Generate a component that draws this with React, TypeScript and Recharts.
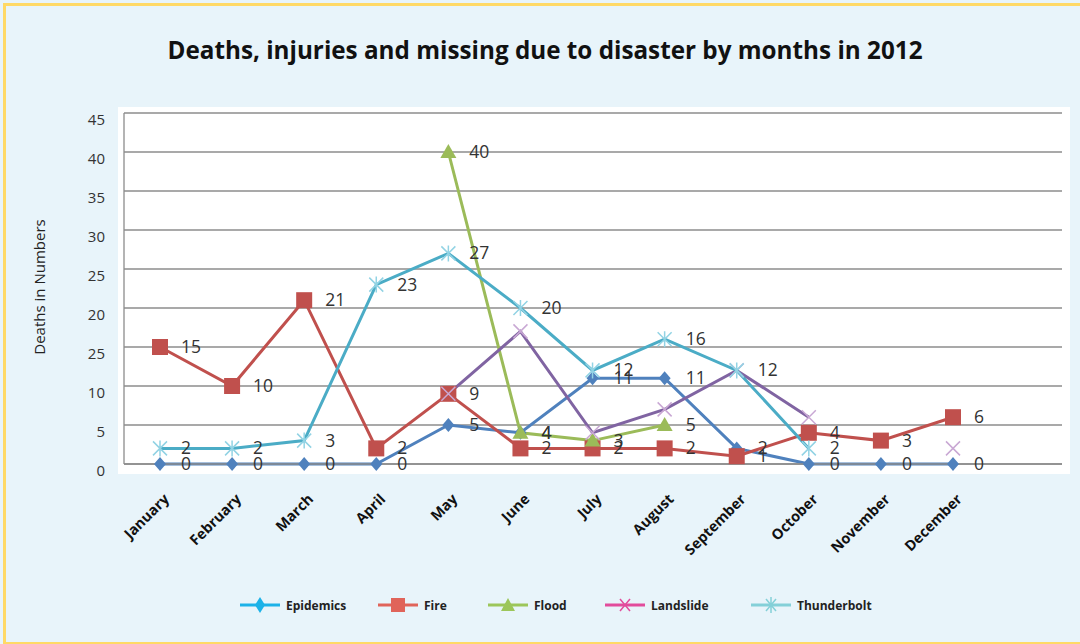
import { CartesianGrid, LabelList, Line, LineChart, XAxis, YAxis } from 'recharts';

const MONTHS = [
  'January', 'February', 'March', 'April', 'May', 'June',
  'July', 'August', 'September', 'October', 'November', 'December',
];
const EPIDEMICS = [0, 0, 0, 0, 5, 4, 11, 11, 2, 0, 0, 0];
const FIRE = [15, 10, 21, 2, 9, 2, 2, 2, 1, 4, 3, 6];
const FLOOD = [null, null, null, null, 40, 4, 3, 5, null, null, null, null];
const LANDSLIDE = [null, null, null, null, 9, 17, 4, 7, 12, 6, null, 2];
const THUNDERBOLT = [2, 2, 3, 23, 27, 20, 12, 16, 12, 2, null, null];

const Y_TICKS = [0, 5, 10, 15, 20, 25, 30, 35, 40, 45];
// the original chart labels the 15 gridline as "25"
const Y_TICK_LABELS = ['0', '5', '10', '25', '20', '25', '30', '35', '40', '45'];

const LEGEND = [
  { name: 'Epidemics', color: '#1cb2e8', shape: 'diamond', left: 240 },
  { name: 'Fire', color: '#e0645a', shape: 'square', left: 378 },
  { name: 'Flood', color: '#9cc65a', shape: 'triangle', left: 488 },
  { name: 'Landslide', color: '#e24c9c', shape: 'cross', left: 605 },
  { name: 'Thunderbolt', color: '#84d0d8', shape: 'star', left: 751 },
];

const data = MONTHS.map((month, i) => ({
  month,
  epidemics: EPIDEMICS[i],
  fire: FIRE[i],
  flood: FLOOD[i],
  landslide: LANDSLIDE[i],
  thunderbolt: THUNDERBOLT[i],
}));

const FONT = '"Open Sans", "Noto Sans", sans-serif';

function hasPoint(props: any) {
  return props.cx != null && props.cy != null && props.value != null && !Number.isNaN(props.cy);
}

function DiamondDot(props: any) {
  if (!hasPoint(props)) return null;
  const { cx, cy } = props;
  return <path d={`M${cx},${cy - 7} L${cx + 6},${cy} L${cx},${cy + 7} L${cx - 6},${cy} Z`} fill="#4f81bd" />;
}

function SquareDot(props: any) {
  if (!hasPoint(props)) return null;
  const { cx, cy } = props;
  return <rect x={cx - 8} y={cy - 8} width={16} height={16} fill="#c0504d" />;
}

function TriangleDot(props: any) {
  if (!hasPoint(props)) return null;
  const { cx, cy } = props;
  return <path d={`M${cx},${cy - 8} L${cx + 8},${cy + 6} L${cx - 8},${cy + 6} Z`} fill="#9bbb59" />;
}

function CrossDot(props: any) {
  if (!hasPoint(props)) return null;
  const { cx, cy } = props;
  return (
    <path
      d={`M${cx - 7},${cy - 7} L${cx + 7},${cy + 7} M${cx + 7},${cy - 7} L${cx - 7},${cy + 7}`}
      stroke="#c9a8d4"
      strokeWidth={1.5}
      fill="none"
    />
  );
}

function StarDot(props: any) {
  if (!hasPoint(props)) return null;
  const { cx, cy } = props;
  return (
    <path
      d={`M${cx - 7},${cy - 7} L${cx + 7},${cy + 7} M${cx + 7},${cy - 7} L${cx - 7},${cy + 7} M${cx},${cy - 8} L${cx},${cy + 8}`}
      stroke="#92d3e4"
      strokeWidth={1.5}
      fill="none"
    />
  );
}

function ValueLabel(props: any) {
  const { x, y, value } = props;
  if (value == null || x == null || y == null) return null;
  return (
    <text x={x + 21} y={y + 6} fontSize={17.5} fontFamily={FONT} fill="#333">
      {value}
    </text>
  );
}

function MonthTick(props: any) {
  const { x, y, payload } = props;
  const ax = x + 10;
  const ay = y + 36;
  return (
    <text
      x={ax}
      y={ay}
      transform={`rotate(-45, ${ax}, ${ay})`}
      textAnchor="end"
      fontSize={14.5}
      fontWeight={700}
      fontFamily={FONT}
      fill="#111"
    >
      {payload.value}
    </text>
  );
}

function ValueTick(props: any) {
  const { x, y, payload } = props;
  const label = Y_TICK_LABELS[Y_TICKS.indexOf(Number(payload.value))] ?? String(payload.value);
  return (
    <text x={x} y={y + 12} textAnchor="end" fontSize={15} fontFamily={FONT} fill="#333">
      {label}
    </text>
  );
}

function LegendIcon({ color, shape }: { color: string; shape: string }) {
  let marker = null;
  if (shape === 'diamond') marker = <path d="M20,2 L25,10 L20,18 L15,10 Z" fill={color} />;
  if (shape === 'square') marker = <rect x={13} y={3} width={14} height={14} fill={color} />;
  if (shape === 'triangle') marker = <path d="M20,3 L27,16 L13,16 Z" fill={color} />;
  if (shape === 'cross') marker = <path d="M15,4 L25,16 M25,4 L15,16" stroke={color} strokeWidth={1.5} />;
  if (shape === 'star') marker = <path d="M15,4 L25,16 M25,4 L15,16 M20,2 L20,18" stroke={color} strokeWidth={1.5} />;
  return (
    <svg width={40} height={20} style={{ display: 'block' }}>
      <line x1={0} y1={10} x2={40} y2={10} stroke={color} strokeWidth={3} />
      {marker}
    </svg>
  );
}

export default function App() {
  return (
    <div
      style={{
        position: 'absolute',
        left: 0,
        top: 0,
        width: 1080,
        height: 644,
        background: '#e8f4fa',
        overflow: 'hidden',
      }}
    >
      <div
        style={{
          position: 'absolute',
          left: 3,
          top: 3,
          width: 1090,
          height: 636,
          border: '3px solid #ffd966',
        }}
      />
      <div
        style={{
          position: 'absolute',
          left: 118,
          top: 107,
          width: 952,
          height: 367,
          background: '#ffffff',
        }}
      />
      <svg width={1080} height={644} style={{ position: 'absolute', left: 0, top: 0 }}>
        <text
          x={545}
          y={59}
          textAnchor="middle"
          fontSize={25}
          fontWeight={700}
          fontFamily={FONT}
          fill="#111"
          textLength={755}
          lengthAdjust="spacingAndGlyphs"
        >
          Deaths, injuries and missing due to disaster by months in 2012
        </text>
        <text
          x={45}
          y={287}
          transform="rotate(-90, 45, 287)"
          textAnchor="middle"
          fontSize={15}
          fontFamily={FONT}
          fill="#222"
        >
          Deaths in Numbers
        </text>
      </svg>
      <div style={{ position: 'absolute', left: 0, top: 0 }}>
        <LineChart
          width={1080}
          height={644}
          data={data}
          margin={{ top: 113, right: 18, left: 84, bottom: 120 }}
        >
          <CartesianGrid vertical={false} stroke="#8c8c8c" strokeWidth={1.3} />
          <XAxis
            dataKey="month"
            padding={{ left: 36, right: 109 }}
            height={60}
            tickSize={0}
            tickMargin={0}
            axisLine={{ stroke: '#8c8c8c', strokeWidth: 1.3 }}
            tick={<MonthTick />}
            interval={0}
          />
          <YAxis
            domain={[0, 45]}
            ticks={Y_TICKS}
            width={40}
            tickSize={0}
            tickMargin={19}
            axisLine={{ stroke: '#8c8c8c', strokeWidth: 1.3 }}
            tick={<ValueTick />}
            interval={0}
          />
          <Line
            dataKey="epidemics"
            stroke="#4f81bd"
            strokeWidth={3}
            dot={<DiamondDot />}
            isAnimationActive={false}
          >
            <LabelList dataKey="epidemics" content={<ValueLabel />} />
          </Line>
          <Line
            dataKey="fire"
            stroke="#c0504d"
            strokeWidth={3}
            dot={<SquareDot />}
            isAnimationActive={false}
          >
            <LabelList dataKey="fire" content={<ValueLabel />} />
          </Line>
          <Line
            dataKey="flood"
            stroke="#9bbb59"
            strokeWidth={3}
            dot={<TriangleDot />}
            isAnimationActive={false}
          >
            <LabelList dataKey="flood" content={<ValueLabel />} />
          </Line>
          <Line
            dataKey="landslide"
            stroke="#8064a2"
            strokeWidth={3}
            dot={<CrossDot />}
            isAnimationActive={false}
          />
          <Line
            dataKey="thunderbolt"
            stroke="#4bacc6"
            strokeWidth={3}
            dot={<StarDot />}
            isAnimationActive={false}
          >
            <LabelList dataKey="thunderbolt" content={<ValueLabel />} />
          </Line>
        </LineChart>
      </div>
      {LEGEND.map((item) => (
        <div
          key={item.name}
          style={{
            position: 'absolute',
            left: item.left,
            top: 595,
            display: 'flex',
            alignItems: 'center',
            gap: 6,
            fontFamily: FONT,
            fontSize: 12,
            fontWeight: 700,
            color: '#222',
          }}
        >
          <LegendIcon color={item.color} shape={item.shape} />
          <span>{item.name}</span>
        </div>
      ))}
    </div>
  );
}
